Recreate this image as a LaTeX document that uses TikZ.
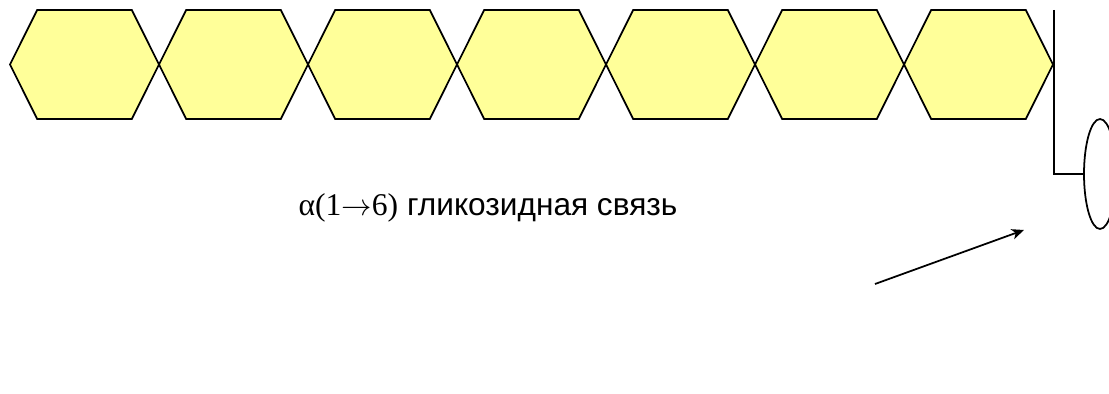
\documentclass[tikz,border=0pt]{standalone}
\usepackage{fontspec}
\setmainfont{Liberation Sans}
\newfontfamily\greekfont{Liberation Serif}
\usetikzlibrary{shapes.symbols, shapes.geometric, arrows.meta, positioning}
\definecolor{hexyellow}{HTML}{FFFF99}
\tikzset{
    myarrow/.style={-{Stealth[length=7pt,width=6pt,inset=2pt]}},
    hexa/.style={draw, signal, signal to=east and west, signal pointer angle=127, fill=hexyellow, minimum width=2.98cm, minimum height=2.18cm, inner sep=0pt, outer sep=0pt},
    sugar/.style={draw, ellipse, minimum width=0.64cm, minimum height=2.2cm, inner sep=0pt, outer sep=0pt}
}

\begin{document}
\begin{tikzpicture}[x=0.02cm, y=-0.02cm, line width=1pt]
    \clip (0,0) rectangle (1109,394);
    \foreach \i in {1,...,7}
        \node (hex\i) [hexa] at ({149*\i-64.5},64.5) {};
    \coordinate (stemtop) at (1054,10);
    \node (ring) [sugar] at (1100,174) {};
    \draw (stemtop) |- (ring.west);
    \node (bond) [font=\fontsize{18}{22}\selectfont] at (488,208) {{\greekfont α(1$\rightarrow$6)} гликозидная связь};
    \coordinate (tail) at (875,284);
    \coordinate (head) at (1024,230);
    \draw [myarrow] (tail) -- (head);
\end{tikzpicture}
\end{document}
